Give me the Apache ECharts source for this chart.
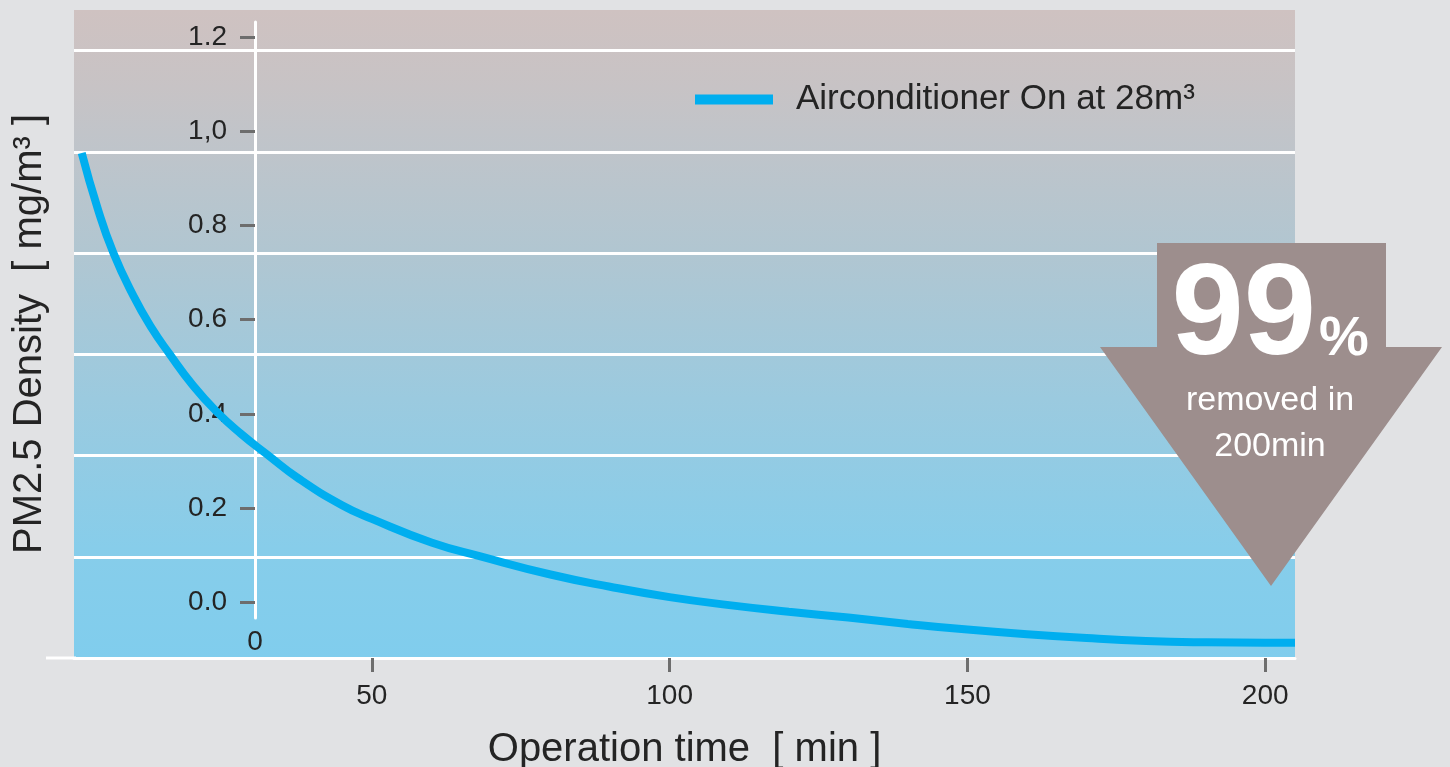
<!DOCTYPE html>
<html>
<head>
<meta charset="utf-8">
<script src="https://cdn.jsdelivr.net/npm/echarts@6/dist/echarts.min.js"></script>
<style>
html,body{margin:0;padding:0;background:#e1e2e4;}
#c{width:1450px;height:767px;}
</style>
</head>
<body>
<div id="c"></div>
<script>
// ---- data ----
const seriesName = 'Airconditioner On at 28m³';
const times = [1.3, 4, 6.6, 10, 13, 16, 20, 24, 28, 32.4, 37.8, 45, 50, 60, 68.4, 80, 90, 100, 110, 120, 130, 140, 150, 160, 170, 180, 190, 200, 205];
const density = [0.954, 0.835, 0.742, 0.650, 0.583, 0.528, 0.460, 0.404, 0.358, 0.314, 0.262, 0.206, 0.177, 0.127, 0.097, 0.059, 0.033, 0.011, -0.006, -0.020, -0.0325, -0.046, -0.058, -0.068, -0.076, -0.082, -0.085, -0.086, -0.086];
const xTicks = [50, 100, 150, 200];
const yTicks = [0, 0.2, 0.4, 0.6, 0.8, 1.0, 1.2];
const originLabel = ['0'];
const xName = 'Operation time  [ min ]';
const yName = 'PM2.5 Density  [ mg/m³ ]';
const badgeBig = '99';
const badgePct = '%';
const badgeLine1 = 'removed in';
const badgeLine2 = '200min';

const FONT = '"Liberation Sans", Arial, sans-serif';
const TXT = '#242424';
const TICK = '#6d6d6d';

const chart = echarts.init(document.getElementById('c'), null, {renderer: 'canvas'});

const option = {
  backgroundColor: '#e1e2e4',
  animation: false,
  textStyle: {fontFamily: FONT},
  legend: {
    left: 690, top: 77,
    icon: 'rect', itemWidth: 78, itemHeight: 10,
    textStyle: {fontSize: 35, color: TXT, fontFamily: FONT, padding: [0, 0, 0, 18]},
    data: [seriesName]
  },
  grid: [
    {
      left: 74, right: 155, top: 10, bottom: 109,
      outerBoundsMode: 'none', containLabel: false,
      show: true, borderWidth: 0,
      backgroundColor: {
        type: 'linear', x: 0, y: 0, x2: 0, y2: 1,
        colorStops: [
          {offset: 0, color: '#cfc2c1'},
          {offset: 0.12, color: '#c7c3c5'},
          {offset: 0.19, color: '#c1c4c9'},
          {offset: 0.37, color: '#b1c6d1'},
          {offset: 0.6, color: '#9bcadf'},
          {offset: 0.83, color: '#87cdea'},
          {offset: 1, color: '#80cded'}
        ]
      }
    },
    {left: 255, width: 10, top: 22, bottom: 149, show: false, outerBoundsMode: 'none', containLabel: false}
  ],
  xAxis: [
    {
      gridIndex: 0, type: 'value', min: 0, max: 205, interval: 50,
      axisLine: {show: true, onZero: false, lineStyle: {color: '#ffffff', width: 3}},
      axisTick: {show: true, customValues: xTicks, length: 14, lineStyle: {color: TICK, width: 3}},
      axisLabel: {show: true, customValues: xTicks, fontSize: 28, color: TXT, margin: 24, fontFamily: FONT},
      splitLine: {show: false},
      name: xName, nameLocation: 'middle', nameGap: 72,
      nameTextStyle: {fontSize: 40, color: TXT, fontFamily: FONT}
    },
    {
      gridIndex: 1, type: 'value', min: 0, max: 1,
      axisLine: {show: false, onZero: false}, axisTick: {show: false}, splitLine: {show: false},
      axisLabel: {show: true, customValues: [0], formatter: () => originLabel[0], fontSize: 28, color: TXT, margin: 10, fontFamily: FONT}
    }
  ],
  yAxis: [
    {
      gridIndex: 0, type: 'value', min: -0.1183, max: 1.2575,
      axisLine: {show: false, onZero: false}, axisTick: {show: false}, axisLabel: {show: false}, splitLine: {show: false},
      name: yName, nameLocation: 'middle', nameGap: 24, nameRotate: 90,
      nameTextStyle: {fontSize: 40, color: TXT, fontFamily: FONT}
    },
    {
      gridIndex: 0, type: 'value', min: 0, max: 6.4, interval: 1,
      axisLine: {show: false, onZero: false}, axisTick: {show: false}, axisLabel: {show: false},
      splitLine: {show: true, lineStyle: {width: 3, color: ['#ffffff', '#ffffff', '#ffffff', '#ffffff', '#ffffff', '#ffffff', '#ffffff', 'rgba(0,0,0,0)']}}
    },
    {
      gridIndex: 1, type: 'value', min: -0.0333, max: 1.232,
      axisLine: {show: true, onZero: false, lineStyle: {color: '#ffffff', width: 3}},
      axisTick: {show: true, customValues: yTicks, length: 15, lineStyle: {color: TICK, width: 3}},
      axisLabel: {show: true, customValues: yTicks, fontSize: 28, color: TXT, margin: 28, fontFamily: FONT,
        formatter: v => (Math.abs(v - 1) < 1e-9 ? '1,0' : v.toFixed(1))},
      splitLine: {show: false}
    }
  ],
  series: [
    {
      name: seriesName, type: 'line', xAxisIndex: 0, yAxisIndex: 0,
      smooth: 0.5, showSymbol: false, symbol: 'none',
      lineStyle: {color: '#00aeef', width: 8},
      itemStyle: {color: '#00aeef'},
      z: 5,
      data: times.map((t, i) => [t, density[i]])
    }
  ],
  graphic: [
    {type: 'rect', shape: {x: 46, y: 656.5, width: 30, height: 3}, style: {fill: '#ffffff'}, z: 10},
    {
      type: 'polygon', z: 20,
      shape: {points: [[1157, 243], [1386, 243], [1386, 347], [1442, 347], [1271, 586], [1100, 347], [1157, 347]]},
      style: {fill: '#9d8e8d'}
    },
    {type: 'text', z: 21, x: 1316, y: 318, style: {text: badgeBig, fill: '#ffffff', font: 'bold 130px ' + FONT, align: 'right', verticalAlign: 'middle'}},
    {type: 'text', z: 21, x: 1319, y: 340, style: {text: badgePct, fill: '#ffffff', font: 'bold 56px ' + FONT, align: 'left', verticalAlign: 'middle'}},
    {type: 'text', z: 21, x: 1270, y: 401, style: {text: badgeLine1, fill: '#ffffff', font: '34px ' + FONT, align: 'center', verticalAlign: 'middle'}},
    {type: 'text', z: 21, x: 1270, y: 447, style: {text: badgeLine2, fill: '#ffffff', font: '34px ' + FONT, align: 'center', verticalAlign: 'middle'}}
  ]
};
chart.setOption(option);
</script>
</body>
</html>
